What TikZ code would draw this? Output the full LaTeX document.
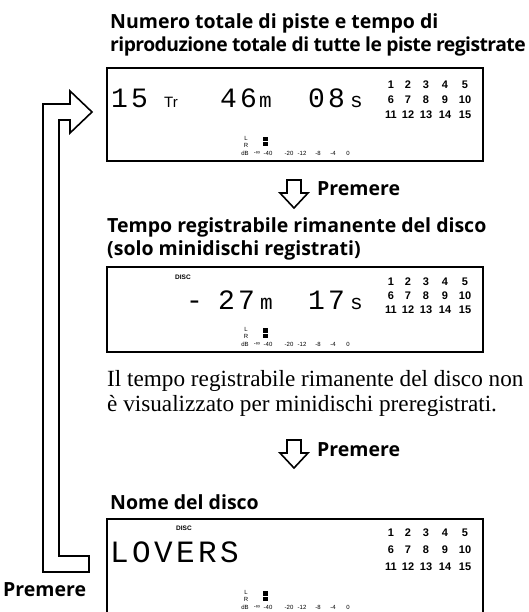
\documentclass[tikz,border=0pt]{standalone}
\usepackage{fontspec}
\setmainfont{Liberation Serif}
\newfontfamily\hd{Open Sans}
\newfontfamily\hdt{Open Sans}[LetterSpace=-2.8]
\newfontfamily\lcd{Liberation Mono}[LetterSpace=11]
\newfontfamily\sm{Liberation Sans}
\tikzset{
  title/.style={anchor=base west, inner sep=0pt, font=\hd\bfseries\fontsize{19.5}{23}\selectfont},
  titletight/.style={anchor=base west, inner sep=0pt, font=\hdt\bfseries\fontsize{19.3}{23}\selectfont},
  para/.style={anchor=base west, inner sep=0pt, font=\fontsize{23.2}{25}\selectfont},
  dispbox/.style={draw, line width=1.3pt, inner sep=0pt},
  big/.style={anchor=base west, inner sep=0pt, font=\lcd\fontsize{28}{28}\selectfont},
  bigger/.style={anchor=base west, inner sep=0pt, font=\lcd\fontsize{31}{31}\selectfont},
  small/.style={anchor=base west, inner sep=0pt, font=\lcd\fontsize{21}{21}\selectfont},
  tr/.style={anchor=base west, inner sep=0pt, font=\sm\fontsize{15}{15}\selectfont},
  trk/.style={inner sep=0pt, font=\sm\bfseries\fontsize{11}{11}\selectfont},
  tiny/.style={inner sep=0pt, font=\sm\fontsize{6}{6}\selectfont},
  disc/.style={inner sep=0pt, font=\sm\bfseries\fontsize{6.5}{6.5}\selectfont},
  hollow/.style={draw, line width=1.6pt, fill=white, line join=miter},
}
\newcommand\trackgrid[3]{%
  \foreach \r in {0,1,2} {
    \foreach \c [count=\ci] in {391,408,426,445,465} {
      \pgfmathtruncatemacro\n{\r*5+\ci}
      \node[trk] (#1-\n) at (\c, #2+#3*\r) {\n};
    }
  }%
}
\newcommand\levelmeter[2]{%
  \node[tiny] (#1-L) at (246,#2-23) {L};
  \node[tiny] (#1-R) at (246,#2-16) {R};
  \node[tiny] (#1-dB) at (245,#2-8) {dB};
  \fill (263,#2-24) rectangle (268,#2-19.5);
  \fill (263,#2-18.5) rectangle (268,#2-14.5);
  \node[tiny] (#1-inf) at (257,#2-8) {-∞};
  \node[tiny] (#1-40) at (268,#2-8) {-40};
  \node[tiny] (#1-20) at (289,#2-8) {-20};
  \node[tiny] (#1-12) at (302,#2-8) {-12};
  \node[tiny] (#1-8) at (318,#2-8) {-8};
  \node[tiny] (#1-4) at (333,#2-8) {-4};
  \node[tiny] (#1-0) at (348,#2-8) {0};
}
\begin{document}
\begin{tikzpicture}[x=1pt,y=-1pt]
\useasboundingbox (0,0) rectangle (529,612);

% ---------- first display ----------
\node[title] (t1a) at (110,29) {Numero totale di piste e tempo di};
\node[titletight] (t1b) at (110,52) {riproduzione totale di tutte le piste registrate};
\node[dispbox, minimum width=376pt, minimum height=93pt] (d1) at (295,114.5) {};
\node[big] (d1a) at (111,108) {15};
\node[tr] (d1b) at (164,108) {Tr};
\node[big] (d1c) at (220,108) {46};
\node[small] (d1d) at (259,108) {m};
\node[big] (d1e) at (308,108) {08};
\node[small] (d1f) at (350,108) {s};
\trackgrid{g1}{85}{15}
\levelmeter{m1}{161}

% ---------- arrow 1 ----------
\draw[hollow] (287,180) -- (301,180) -- (301,193) -- (308,193) -- (294,208)
  -- (280,193) -- (287,193) -- cycle;
\node[title, anchor=west] (p1) at (317,189) {Premere};

% ---------- second display ----------
\node[title] (t2a) at (107,233) {Tempo registrabile rimanente del disco};
\node[title] (t2b) at (107,255) {(solo minidischi registrati)};
\node[dispbox, minimum width=376pt, minimum height=85pt] (d2) at (295,309.5) {};
\node[disc] (d2disc) at (183,277) {DISC};
\node[big] (d2a) at (186,309) {-};
\node[big] (d2b) at (218,309) {27};
\node[small] (d2c) at (260,309) {m};
\node[big] (d2d) at (308,309) {17};
\node[small] (d2e) at (350,309) {s};
\trackgrid{g2}{282}{14}
\levelmeter{m2}{352}

\node[para] (n1) at (107,386) {Il tempo registrabile rimanente del disco non};
\node[para] (n2) at (107,411) {è visualizzato per minidischi preregistrati.};

% ---------- arrow 2 ----------
\draw[hollow] (287,440) -- (301,440) -- (301,453) -- (308,453) -- (294,468)
  -- (280,453) -- (287,453) -- cycle;
\node[title, anchor=west] (p2) at (317,450) {Premere};

% ---------- third display ----------
\node[title] (t3) at (110,509) {Nome del disco};
\draw[line width=1.3pt] (107,613) -- (107,519) -- (483,519) -- (483,613);
\coordinate (d3) at (295,519);
\node[disc] (d3disc) at (184,528) {DISC};
\node[bigger] (d3a) at (110,562) {LOVERS};
\trackgrid{g3}{533}{17}
\levelmeter{m3}{615}

% ---------- loop arrow ----------
\draw[hollow] (89,572) -- (43,572) -- (43,104) -- (70,104) -- (70,91) -- (92,112)
  -- (70,133) -- (70,120) -- (59,120) -- (59,556) -- (89,556) -- cycle;
\node[title, anchor=base west] (p3) at (3,596) {Premere};
\end{tikzpicture}
\end{document}
